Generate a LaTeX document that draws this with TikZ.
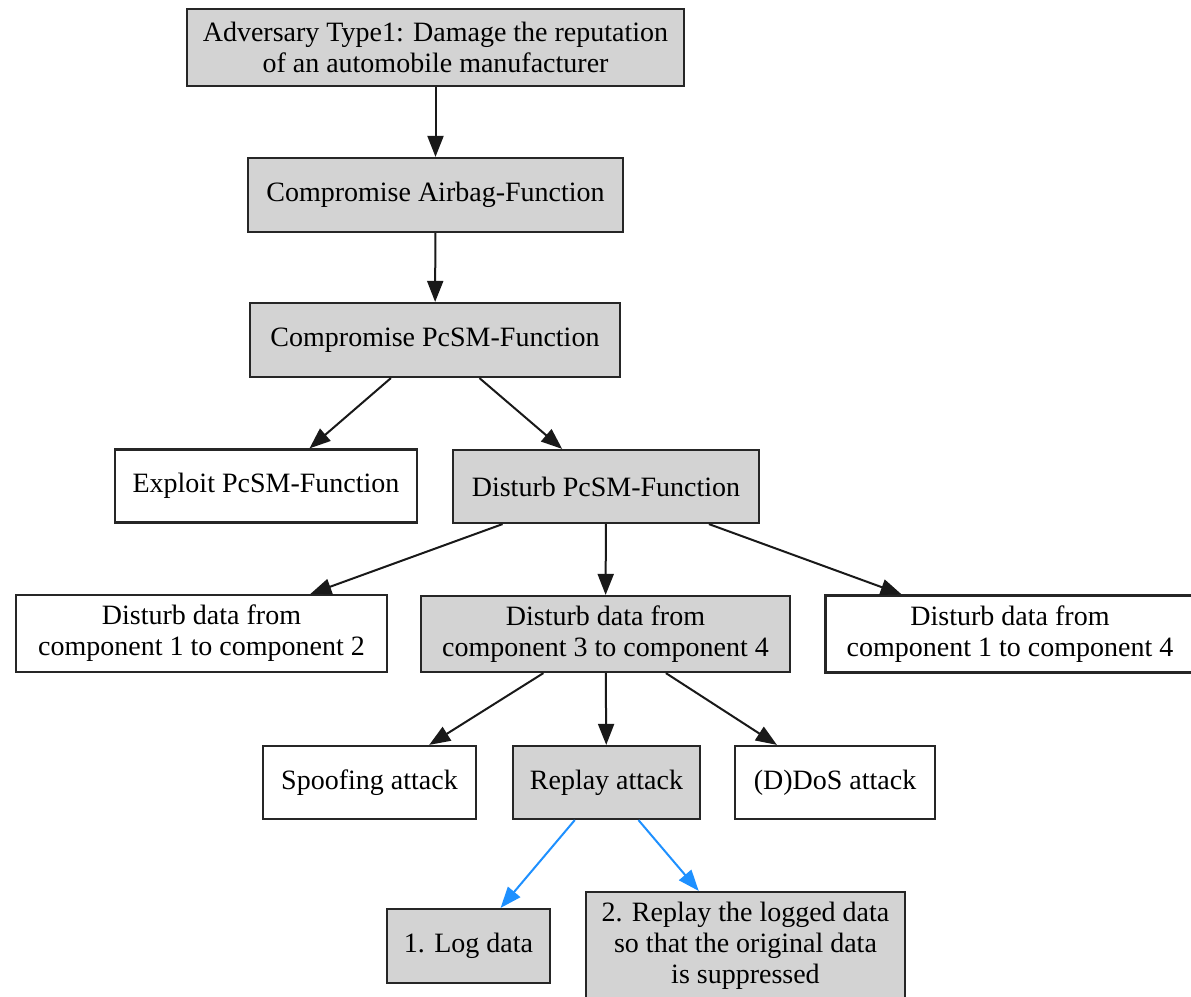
\documentclass[tikz,border=0pt]{standalone}
\usepackage{fontspec}
\setmainfont{Liberation Serif}
\usetikzlibrary{arrows.meta}
\definecolor{boxgray}{HTML}{D3D3D3}
\definecolor{stepblue}{HTML}{1E90FF}
\tikzset{
  goal/.style={draw=black!85, line width=1.1pt, fill=boxgray, inner sep=0pt,
    align=center, font=\fontsize{14}{15.5}\selectfont},
  leaf/.style={goal, fill=white},
  edge/.style={draw=black!90, line width=1pt, -{Triangle[length=10.5pt,width=8pt]}},
  stepedge/.style={edge, draw=stepblue, -{Triangle[length=10.5pt,width=8pt,fill=stepblue]}}
}
\begin{document}
\begin{tikzpicture}[x=0.5pt, y=-0.5pt]
\useasboundingbox (0,0) rectangle (1191,997);

% attack tree nodes
\node[goal, minimum width=248.5pt, minimum height=38.5pt] (root) at (435.5,47.5)
  {Adversary Type1: Damage the reputation\\of an automobile manufacturer};
\node[goal, minimum width=187.5pt, minimum height=37pt] (airbag) at (435.5,195)
  {Compromise Airbag-Function};
\node[goal, minimum width=185pt, minimum height=37pt] (pcsm) at (435,340)
  {Compromise PcSM-Function};
\node[leaf, minimum width=151pt, minimum height=36.5pt] (exploit) at (266,486)
  {Exploit PcSM-Function};
\node[goal, minimum width=153pt, minimum height=36.5pt] (disturb) at (606,486.5)
  {Disturb PcSM-Function};
\node[leaf, minimum width=185.5pt, minimum height=38.5pt] (c12) at (201.5,633.5)
  {Disturb data from\\component 1 to component 2};
\node[goal, minimum width=184.5pt, minimum height=38pt] (c34) at (605.5,634)
  {Disturb data from\\component 3 to component 4};
\node[leaf, minimum width=184.5pt, minimum height=38.5pt] (c14) at (1010,634)
  {Disturb data from\\component 1 to component 4};
\node[leaf, minimum width=106.5pt, minimum height=36.5pt] (spoof) at (369.5,782.5)
  {Spoofing attack};
\node[goal, minimum width=93.5pt, minimum height=36.5pt] (replay) at (606.5,782.5)
  {Replay attack};
\node[leaf, minimum width=100pt, minimum height=36.5pt] (dos) at (835,782.5)
  {(D)DoS attack};
\node[goal, minimum width=81.5pt, minimum height=37pt] (log) at (468.5,946)
  {1. Log data};
\node[goal, minimum width=159.5pt, minimum height=54pt] (resend) at (745.5,946)
  {2. Replay the logged data\\so that the original data\\is suppressed};

% refinement edges
\draw[edge] (root) -- (airbag);
\draw[edge] (airbag) -- (pcsm);
\draw[edge] (pcsm) -- (exploit);
\draw[edge] (pcsm) -- (disturb);
\draw[edge] (disturb) -- (c12);
\draw[edge] (disturb) -- (c34);
\draw[edge] (disturb) -- (c14);
\draw[edge] (c34) -- (spoof);
\draw[edge] (c34) -- (replay);
\draw[edge] (c34) -- (dos);

% sequential steps of the replay attack
\draw[stepedge] (replay) -- (log);
\draw[stepedge] (replay) -- (resend);
\end{tikzpicture}
\end{document}
